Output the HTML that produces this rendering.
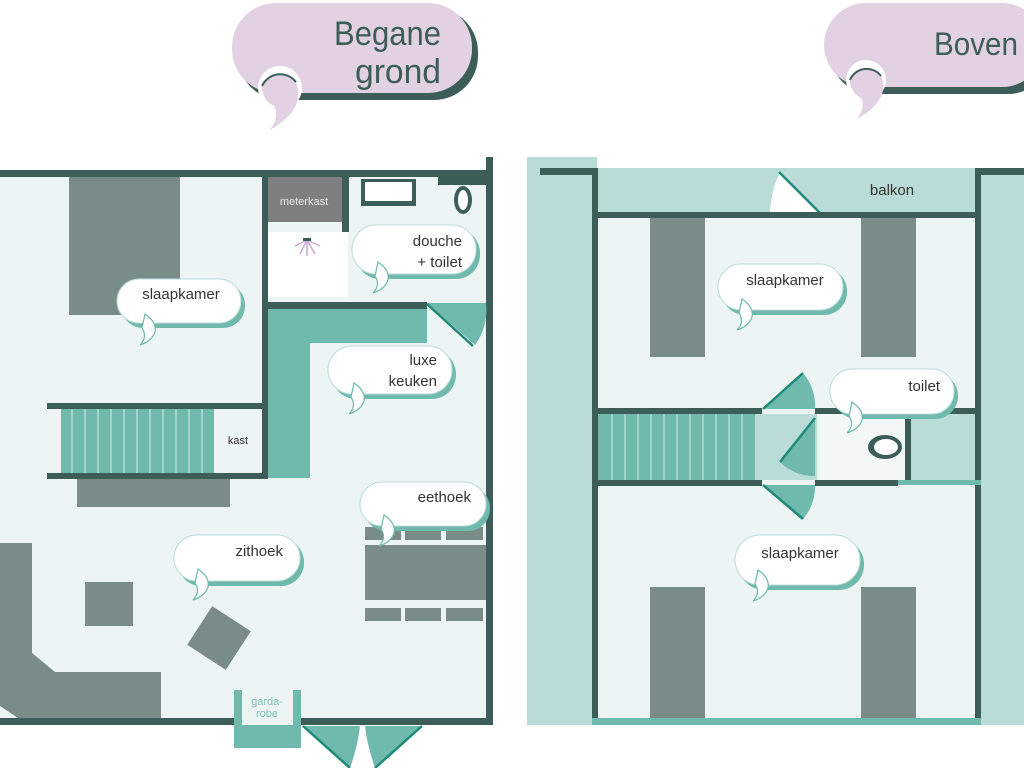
<!DOCTYPE html>
<html><head><meta charset="utf-8"><style>
html,body{margin:0;padding:0;background:#fff;width:1024px;height:768px;overflow:hidden}
svg{display:block}
text{font-family:"Liberation Sans","DejaVu Sans",sans-serif}
</style></head><body>
<svg width="1024" height="768" viewBox="0 0 1024 768" xmlns="http://www.w3.org/2000/svg">
<!-- ===== LEFT PLAN ===== -->
<rect x="0" y="170" width="493" height="555" fill="#edf5f4"/>
<rect x="69" y="177" width="111" height="138" fill="#798c88"/>
<rect x="266" y="177" width="76" height="45" fill="#7f7f7f"/>
<text x="304" y="205" font-size="11" fill="#e8e8e8" text-anchor="middle">meterkast</text>
<rect x="342" y="177" width="7" height="55" fill="#3d5e58"/>
<rect x="266" y="232" width="82" height="65" fill="#fdfefe"/>
<g stroke="#c9a9d6" stroke-width="1.5">
<line x1="307" y1="240" x2="295" y2="246"/><line x1="307" y1="240" x2="300" y2="254"/><line x1="307" y1="240" x2="307" y2="256"/><line x1="307" y1="240" x2="315" y2="254"/><line x1="307" y1="240" x2="320" y2="246"/>
</g>
<rect x="303" y="238" width="8" height="3" fill="#3d5e58"/>
<rect x="361" y="179" width="55" height="27" fill="#3d5e58"/>
<rect x="365" y="182" width="47" height="19" fill="#fff"/>
<rect x="438" y="177" width="48" height="8" fill="#3d5e58"/>
<ellipse cx="463" cy="200" rx="9" ry="14" fill="#3d5e58"/>
<ellipse cx="463" cy="200" rx="5" ry="10" fill="#fff"/>
<rect x="0" y="170" width="493" height="7" fill="#3d5e58"/>
<rect x="486" y="157" width="7" height="568" fill="#3d5e58"/>
<rect x="0" y="718" width="493" height="7" fill="#3d5e58"/>
<rect x="262" y="177" width="6" height="302" fill="#3d5e58"/>
<rect x="262" y="302" width="165" height="7" fill="#3d5e58"/>
<path d="M268 309 H427 V343 H310 V478 H268 Z" fill="#6fb9ad"/>
<path d="M427 303 H486 A59 59 0 0 1 475 345 Z" fill="#6fb9ad"/>
<line x1="427" y1="304" x2="473" y2="346" stroke="#1f8a78" stroke-width="2.5"/>
<rect x="47" y="403" width="215" height="6" fill="#3d5e58"/>
<rect x="61" y="409" width="153" height="66" fill="#6fb9ad"/>
<g stroke="#d8eeea" stroke-width="1">
<line x1="72" y1="409" x2="72" y2="475"/><line x1="85" y1="409" x2="85" y2="475"/><line x1="98" y1="409" x2="98" y2="475"/><line x1="111" y1="409" x2="111" y2="475"/><line x1="124" y1="409" x2="124" y2="475"/><line x1="137" y1="409" x2="137" y2="475"/><line x1="150" y1="409" x2="150" y2="475"/><line x1="163" y1="409" x2="163" y2="475"/><line x1="176" y1="409" x2="176" y2="475"/><line x1="189" y1="409" x2="189" y2="475"/><line x1="202" y1="409" x2="202" y2="475"/>
</g>
<text x="238" y="444" font-size="11" fill="#333" text-anchor="middle">kast</text>
<rect x="47" y="473" width="221" height="6" fill="#3d5e58"/>
<rect x="77" y="479" width="153" height="28" fill="#798c88"/>
<path d="M0 543 H32 V653 L55 672 H161 V718 H18 L0 706 Z" fill="#798c88"/>
<rect x="85" y="582" width="48" height="44" fill="#798c88"/>
<rect x="196" y="615" width="46" height="46" fill="#798c88" transform="rotate(33 219 638)"/>
<rect x="365" y="527" width="36" height="13" fill="#798c88"/>
<rect x="405" y="527" width="36" height="13" fill="#798c88"/>
<rect x="446" y="527" width="37" height="13" fill="#798c88"/>
<rect x="365" y="545" width="121" height="55" fill="#798c88"/>
<rect x="365" y="608" width="36" height="13" fill="#798c88"/>
<rect x="405" y="608" width="36" height="13" fill="#798c88"/>
<rect x="446" y="608" width="37" height="13" fill="#798c88"/>
<rect x="234" y="690" width="67" height="58" fill="#6fb9ad"/>
<rect x="242" y="690" width="51" height="35" fill="#edf5f4"/>
<text x="267" y="705" font-size="11" fill="#7fc4b8" text-anchor="middle">garda-</text>
<text x="267" y="717" font-size="11" fill="#7fc4b8" text-anchor="middle">robe</text>
<path d="M303 726 H360 Q358 745 350 768 Z" fill="#6fb9ad"/>
<path d="M422 726 H365 Q367 745 375 768 Z" fill="#6fb9ad"/>
<line x1="303" y1="726" x2="350" y2="768" stroke="#1f8a78" stroke-width="2.5"/>
<line x1="422" y1="726" x2="375" y2="768" stroke="#1f8a78" stroke-width="2.5"/>

<!-- ===== RIGHT PLAN ===== -->
<rect x="527" y="157" width="70" height="568" fill="#b9dcd8"/>
<rect x="598" y="176" width="377" height="545" fill="#edf5f4"/>
<rect x="981" y="170" width="43" height="555" fill="#b9dcd8"/>
<rect x="598" y="168" width="377" height="44" fill="#b9dcd8"/>
<path d="M770 212 Q772 185 781 172 L820 212 Z" fill="#fff"/>
<line x1="779" y1="172" x2="820" y2="213" stroke="#1f8a78" stroke-width="2.5"/>
<text x="892" y="195" font-size="15" fill="#333" text-anchor="middle">balkon</text>
<rect x="540" y="168" width="57" height="7" fill="#3d5e58"/>
<rect x="592" y="168" width="6" height="555" fill="#3d5e58"/>
<rect x="598" y="212" width="377" height="6" fill="#3d5e58"/>
<rect x="975" y="168" width="6" height="555" fill="#3d5e58"/>
<rect x="975" y="168" width="49" height="7" fill="#3d5e58"/>
<rect x="592" y="718" width="389" height="7" fill="#6fb9ad"/>
<rect x="650" y="218" width="55" height="139" fill="#798c88"/>
<rect x="861" y="218" width="55" height="139" fill="#798c88"/>
<rect x="650" y="587" width="55" height="131" fill="#798c88"/>
<rect x="861" y="587" width="55" height="131" fill="#798c88"/>
<rect x="598" y="408" width="164" height="6" fill="#3d5e58"/>
<rect x="815" y="408" width="160" height="6" fill="#3d5e58"/>
<rect x="598" y="414" width="157" height="66" fill="#6fb9ad"/>
<g stroke="#d8eeea" stroke-width="1">
<line x1="612" y1="414" x2="612" y2="480"/><line x1="625" y1="414" x2="625" y2="480"/><line x1="638" y1="414" x2="638" y2="480"/><line x1="651" y1="414" x2="651" y2="480"/><line x1="664" y1="414" x2="664" y2="480"/><line x1="677" y1="414" x2="677" y2="480"/><line x1="690" y1="414" x2="690" y2="480"/><line x1="703" y1="414" x2="703" y2="480"/><line x1="716" y1="414" x2="716" y2="480"/><line x1="729" y1="414" x2="729" y2="480"/><line x1="742" y1="414" x2="742" y2="480"/>
</g>
<rect x="755" y="414" width="62" height="66" fill="#b9dcd8"/>
<rect x="820" y="414" width="85" height="66" fill="#f3f8f7"/>
<rect x="905" y="414" width="6" height="66" fill="#3d5e58"/>
<rect x="911" y="414" width="64" height="66" fill="#b9dcd8"/>
<ellipse cx="885" cy="447" rx="17" ry="12" fill="#3d5e58"/>
<ellipse cx="886" cy="447" rx="12" ry="8" fill="#fff"/>
<rect x="598" y="480" width="164" height="6" fill="#3d5e58"/>
<rect x="815" y="480" width="83" height="6" fill="#3d5e58"/>
<rect x="898" y="480" width="83" height="5" fill="#6fb9ad"/>
<path d="M763 409 L803 373 A50 50 0 0 1 815 409 Z" fill="#6fb9ad"/>
<line x1="763" y1="409" x2="803" y2="373" stroke="#1f8a78" stroke-width="2.5"/>
<path d="M815 418 L780 462 A48 48 0 0 0 815 476 Z" fill="#6fb9ad"/>
<line x1="815" y1="418" x2="780" y2="462" stroke="#1f8a78" stroke-width="2.5"/>
<path d="M763 485 L803 519 A50 50 0 0 0 815 485 Z" fill="#6fb9ad"/>
<line x1="763" y1="485" x2="803" y2="519" stroke="#1f8a78" stroke-width="2.5"/>

<!-- ===== BUBBLES ===== -->
<g>
<rect x="121" y="283" width="124" height="45" rx="22" fill="#6fb9ad"/>
<rect x="117" y="279" width="124" height="44" rx="22" fill="#fff" stroke="#b9dcd8" stroke-width="1"/>
<path d="M145 314 q12 8 10 18 q-3 9 -15 13 q8 -8 2 -17 z" fill="#fff" stroke="#6fb9ad" stroke-width="1.2"/>
<text x="181" y="299" font-size="15" fill="#333" text-anchor="middle">slaapkamer</text>

<rect x="356" y="229" width="124" height="50" rx="24" fill="#6fb9ad"/>
<rect x="352" y="225" width="124" height="49" rx="24" fill="#fff" stroke="#b9dcd8" stroke-width="1"/>
<path d="M378 262 q12 8 10 18 q-3 9 -15 13 q8 -8 2 -17 z" fill="#fff" stroke="#6fb9ad" stroke-width="1.2"/>
<text x="462" y="246" font-size="15" fill="#333" text-anchor="end">douche</text>
<text x="462" y="267" font-size="15" fill="#333" text-anchor="end">+ toilet</text>

<rect x="332" y="350" width="124" height="49" rx="24" fill="#6fb9ad"/>
<rect x="328" y="346" width="124" height="48" rx="24" fill="#fff" stroke="#b9dcd8" stroke-width="1"/>
<path d="M354 383 q12 8 10 18 q-3 9 -15 13 q8 -8 2 -17 z" fill="#fff" stroke="#6fb9ad" stroke-width="1.2"/>
<text x="437" y="365" font-size="15" fill="#333" text-anchor="end">luxe</text>
<text x="437" y="386" font-size="15" fill="#333" text-anchor="end">keuken</text>

<rect x="364" y="486" width="126" height="45" rx="22" fill="#6fb9ad"/>
<rect x="360" y="482" width="126" height="44" rx="22" fill="#fff" stroke="#b9dcd8" stroke-width="1"/>
<path d="M384 515 q12 8 10 18 q-3 9 -15 13 q8 -8 2 -17 z" fill="#fff" stroke="#6fb9ad" stroke-width="1.2"/>
<text x="471" y="502" font-size="15" fill="#333" text-anchor="end">eethoek</text>

<rect x="178" y="539" width="126" height="47" rx="23" fill="#6fb9ad"/>
<rect x="174" y="535" width="126" height="46" rx="23" fill="#fff" stroke="#b9dcd8" stroke-width="1"/>
<path d="M198 569 q12 8 10 18 q-3 9 -15 13 q8 -8 2 -17 z" fill="#fff" stroke="#6fb9ad" stroke-width="1.2"/>
<text x="283" y="556" font-size="15" fill="#333" text-anchor="end">zithoek</text>

<rect x="722" y="268" width="125" height="47" rx="23" fill="#6fb9ad"/>
<rect x="718" y="264" width="125" height="46" rx="23" fill="#fff" stroke="#b9dcd8" stroke-width="1"/>
<path d="M742 299 q12 8 10 18 q-3 9 -15 13 q8 -8 2 -17 z" fill="#fff" stroke="#6fb9ad" stroke-width="1.2"/>
<text x="785" y="285" font-size="15" fill="#333" text-anchor="middle">slaapkamer</text>

<rect x="834" y="373" width="124" height="46" rx="23" fill="#6fb9ad"/>
<rect x="830" y="369" width="124" height="45" rx="22" fill="#fff" stroke="#b9dcd8" stroke-width="1"/>
<path d="M852 402 q12 8 10 18 q-3 9 -15 13 q8 -8 2 -17 z" fill="#fff" stroke="#6fb9ad" stroke-width="1.2"/>
<text x="940" y="391" font-size="15" fill="#333" text-anchor="end">toilet</text>

<rect x="739" y="539" width="125" height="51" rx="25" fill="#6fb9ad"/>
<rect x="735" y="535" width="125" height="50" rx="25" fill="#fff" stroke="#b9dcd8" stroke-width="1"/>
<path d="M758 570 q12 8 10 18 q-3 9 -15 13 q8 -8 2 -17 z" fill="#fff" stroke="#6fb9ad" stroke-width="1.2"/>
<text x="800" y="558" font-size="15" fill="#333" text-anchor="middle">slaapkamer</text>
</g>

<!-- title bubbles -->
<rect x="238" y="8" width="240" height="92" rx="44" fill="#3d5e58"/>
<rect x="232" y="3" width="240" height="90" rx="44" fill="#e2d1e2"/>
<circle cx="280" cy="88" r="22" fill="#fff"/>
<path d="M262 86 a20 20 0 0 1 34 -4 q6 16 -4 30 q-8 10 -22 18 q10 -14 4 -24 q-12 -6 -12 -20 z" fill="#e2d1e2"/>
<path d="M262 86 a20 20 0 0 1 34 -4" fill="none" stroke="#3d5e58" stroke-width="2"/>
<text x="441" y="45" font-size="34" fill="#3d5e58" text-anchor="end" textLength="107" lengthAdjust="spacingAndGlyphs">Begane</text>
<text x="441" y="83" font-size="34" fill="#3d5e58" text-anchor="end" textLength="86" lengthAdjust="spacingAndGlyphs">grond</text>

<rect x="830" y="8" width="220" height="86" rx="42" fill="#3d5e58"/>
<rect x="824" y="3" width="220" height="84" rx="42" fill="#e2d1e2"/>
<circle cx="866" cy="80" r="20" fill="#fff"/>
<path d="M850 80 a18 18 0 0 1 31 -4 q6 14 -4 27 q-7 9 -20 16 q9 -13 4 -21 q-11 -6 -11 -18 z" fill="#e2d1e2"/>
<path d="M850 80 a18 18 0 0 1 31 -4" fill="none" stroke="#3d5e58" stroke-width="2"/>
<text x="1018" y="55" font-size="32" fill="#3d5e58" text-anchor="end" textLength="84" lengthAdjust="spacingAndGlyphs">Boven</text>
</svg>
</body></html>
